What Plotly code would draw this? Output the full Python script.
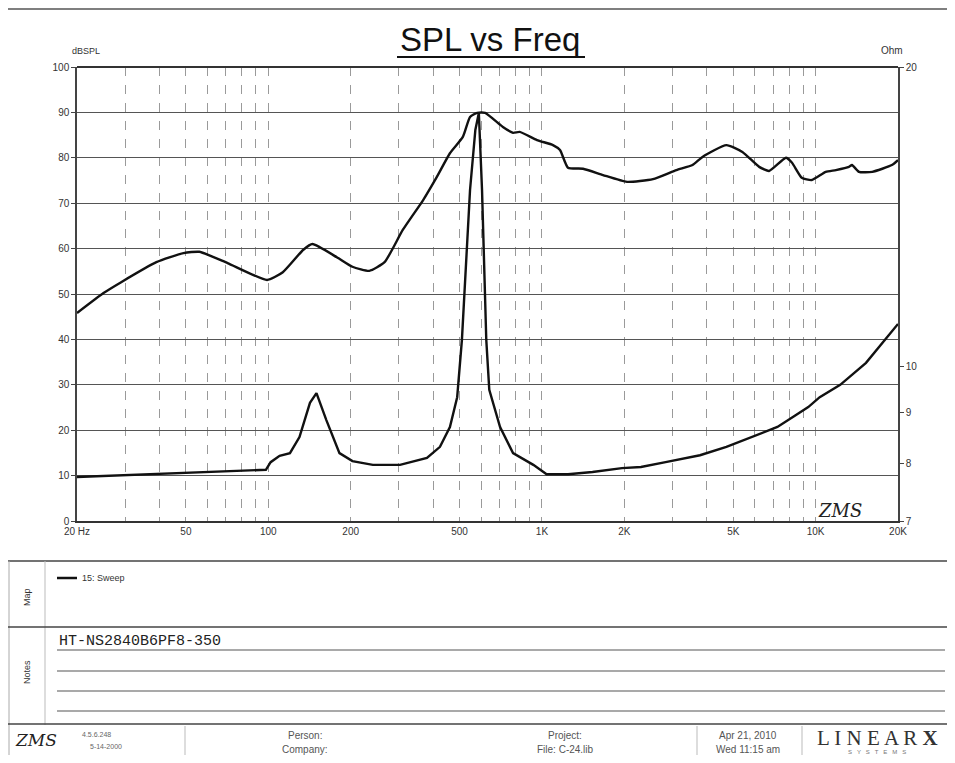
import plotly.graph_objects as go

# ---------------- data ----------------
spl_freq = [20, 25, 29, 39, 49, 56, 71, 99, 113, 134, 145, 178, 203, 234, 266,
            310, 368, 413, 461, 514, 546, 580, 620, 720, 784, 829, 959, 1097,
            1164, 1245, 1413, 1672, 2045, 2545, 3100, 3550, 3860, 4720, 5400,
            6220, 6760, 7790, 8200, 8900, 9680, 10890, 11860, 13240, 13580,
            14400, 16100, 19000, 20000]
spl_db = [45.8, 50.2, 52.6, 57.0, 59.0, 59.3, 56.8, 53.1, 54.8, 59.7, 61.0,
          58.1, 56.0, 55.1, 57.0, 64.1, 70.7, 75.8, 81.0, 84.6, 89.0, 89.9,
          89.9, 86.8, 85.5, 85.7, 83.9, 82.8, 81.7, 77.8, 77.6, 76.2, 74.7,
          75.3, 77.3, 78.4, 80.2, 82.8, 81.3, 78.0, 77.1, 80.0, 78.9, 75.6,
          75.1, 76.9, 77.3, 78.0, 78.4, 76.9, 76.9, 78.4, 79.5]

imp_freq = [20, 30, 50, 80, 98, 102, 110, 120, 130, 142, 150, 163, 182, 203,
            241, 303, 380, 424, 461, 490, 510, 546, 571, 588, 604, 626, 642,
            703, 784, 930, 1040, 1245, 1530, 1960, 2300, 2830, 3780, 4720,
            5800, 7250, 8450, 9400, 10350, 12300, 15280, 17500, 20000]
imp_ohm = [7.75, 7.78, 7.82, 7.86, 7.88, 8.02, 8.14, 8.19, 8.50, 9.20, 9.41,
           8.84, 8.19, 8.04, 7.97, 7.97, 8.10, 8.31, 8.70, 9.32, 10.64, 15.05,
           17.29, 17.98, 15.05, 10.64, 9.48, 8.70, 8.19, 7.97, 7.80, 7.80,
           7.84, 7.91, 7.93, 8.02, 8.15, 8.31, 8.50, 8.70, 8.94, 9.11, 9.32,
           9.59, 10.09, 10.56, 11.04]

x_grid_vals = [20, 30, 40, 50, 60, 70, 80, 90, 100, 200, 300, 400, 500, 600,
               700, 800, 900, 1000, 2000, 3000, 4000, 5000, 6000, 7000, 8000,
               9000, 10000, 20000]
x_labels = {20: "20 Hz", 50: "50", 100: "100", 200: "200", 500: "500",
            1000: "1K", 2000: "2K", 5000: "5K", 10000: "10K", 20000: "20K"}
y_ticks = [0, 10, 20, 30, 40, 50, 60, 70, 80, 90, 100]
ohm_ticks = [7, 8, 9, 10, 20]

# ---------------- layout helpers ----------------
# the page body has an 8px margin, so the figure is sized to fit the window
OFF = 8
W, H = 955 - 2 * OFF, 763 - 2 * OFF


def px(x):
    return (x - OFF) / W


def py(y):
    return 1 - (y - OFF) / H


fig = go.Figure()
fig.add_trace(go.Scatter(x=spl_freq, y=spl_db, mode="lines",
                         line=dict(color="#111", width=2.4, shape="spline",
                                   smoothing=0.5),
                         name="SPL", showlegend=False))
fig.add_trace(go.Scatter(x=imp_freq, y=imp_ohm, mode="lines", yaxis="y2",
                         line=dict(color="#111", width=2.4),
                         name="Impedance", showlegend=False))

tick_font = dict(family="Liberation Sans Narrow, Liberation Sans", size=10,
                 color="#333")

fig.update_layout(
    width=W, height=H,
    margin=dict(l=0, r=0, t=0, b=0, autoexpand=False),
    paper_bgcolor="white", plot_bgcolor="white",
    xaxis=dict(type="log", domain=[px(77), px(898)],
               range=[1.30103, 4.30103],
               tickvals=x_grid_vals,
               ticktext=[x_labels.get(v, "") for v in x_grid_vals],
               tickangle=0, automargin=False,
               showgrid=True, gridcolor="#9a9a9a", gridwidth=1, griddash="dash",
               showline=True, linecolor="#333", linewidth=2, mirror=False,
               ticks="", tickfont=tick_font, zeroline=False),
    yaxis=dict(domain=[py(521), py(67)], range=[0, 100],
               tickvals=y_ticks, ticks="outside", ticklen=4,
               tickcolor="#444", automargin=False,
               showgrid=True, gridcolor="#555", gridwidth=1.3,
               showline=True, linecolor="#444", linewidth=1.5,
               tickfont=tick_font, zeroline=False),
    yaxis2=dict(type="log", overlaying="y", side="right",
                range=[0.845098, 1.30103], automargin=False,
                tickvals=ohm_ticks, ticktext=[str(v) for v in ohm_ticks],
                ticks="outside", ticklen=4, tickcolor="#444",
                showgrid=False, showline=True, linecolor="#444", linewidth=1.5,
                tickfont=tick_font, zeroline=False),
)

shapes = []
ann = []


def hline(y, x0, x1, color="#444", width=1.2):
    shapes.append(dict(type="line", xref="paper", yref="paper",
                       x0=px(x0), x1=px(x1), y0=py(y), y1=py(y),
                       line=dict(color=color, width=width)))


def vline(x, y0, y1, color="#444", width=1.2):
    shapes.append(dict(type="line", xref="paper", yref="paper",
                       x0=px(x), x1=px(x), y0=py(y0), y1=py(y1),
                       line=dict(color=color, width=width)))


def text(x, y, s, size=10, family="Liberation Sans", color="#333",
         xanchor="center", yanchor="middle", angle=0):
    ann.append(dict(x=px(x), y=py(y), xref="paper", yref="paper", text=s,
                    showarrow=False, xanchor=xanchor, yanchor=yanchor,
                    textangle=angle,
                    font=dict(size=size, family=family, color=color)))


# top frame line
hline(9, 8, 955, "#555", 1.5)
# plot frame top
hline(67, 77, 898, "#333", 1.8)

# title
text(490, 40, "SPL vs Freq", size=33, family="Liberation Sans", color="#111")
hline(57, 397, 585, "#111", 2.2)
text(70, 58, "dBSPL", size=9, xanchor="left", yanchor="bottom")
text(905, 58, "Ohm", size=10, xanchor="right", yanchor="bottom")

# ZMS mark in plot
text(840, 510, "<i>ZMS</i>", size=18, family="DejaVu Serif", color="#222")

# Map section
hline(561, 8, 955, "#444", 1.3)
vline(45, 561, 725, "#bbb", 1)
vline(9, 561, 755, "#aaa", 1)
text(27, 597, "Map", size=9, angle=-90)
hline(578, 57, 77, "#111", 2.5)
text(80, 578, "15: Sweep", size=9, xanchor="left")

# Notes section
hline(627, 8, 955, "#444", 1.3)
text(27, 672, "Notes", size=9, angle=-90)
text(57, 641, "HT-NS2840B6PF8-350", size=15, family="Liberation Mono",
     color="#222", xanchor="left")
for yy in (650, 671, 691, 711):
    hline(yy, 57, 945, "#555", 1.2)
hline(724, 8, 955, "#444", 1.3)

# footer
for xx in (185, 697, 802):
    vline(xx, 726, 755, "#bbb", 1)
text(36, 740, "<i>ZMS</i>", size=17, family="DejaVu Serif", color="#222")
text(80, 734, "4.5.6.248", size=7, xanchor="left", color="#666")
text(88, 746, "5-14-2000", size=7, xanchor="left", color="#666")
text(305, 735, "Person:", size=10, color="#555")
text(305, 749, "Company:", size=10, color="#555")
text(565, 735, "Project:", size=10, color="#555")
text(565, 749, "File: C-24.lib", size=10, color="#555")
text(748, 735, "Apr 21, 2010", size=10, color="#555")
text(748, 749, "Wed 11:15 am", size=10, color="#555")
text(877, 738, "L I N E A R <b>X</b>", size=21, family="Liberation Serif",
     color="#333")
text(877, 752, "S   Y   S   T   E   M   S", size=6, color="#777")

fig.update_layout(shapes=shapes, annotations=ann)
fig.write_html("out.html")
